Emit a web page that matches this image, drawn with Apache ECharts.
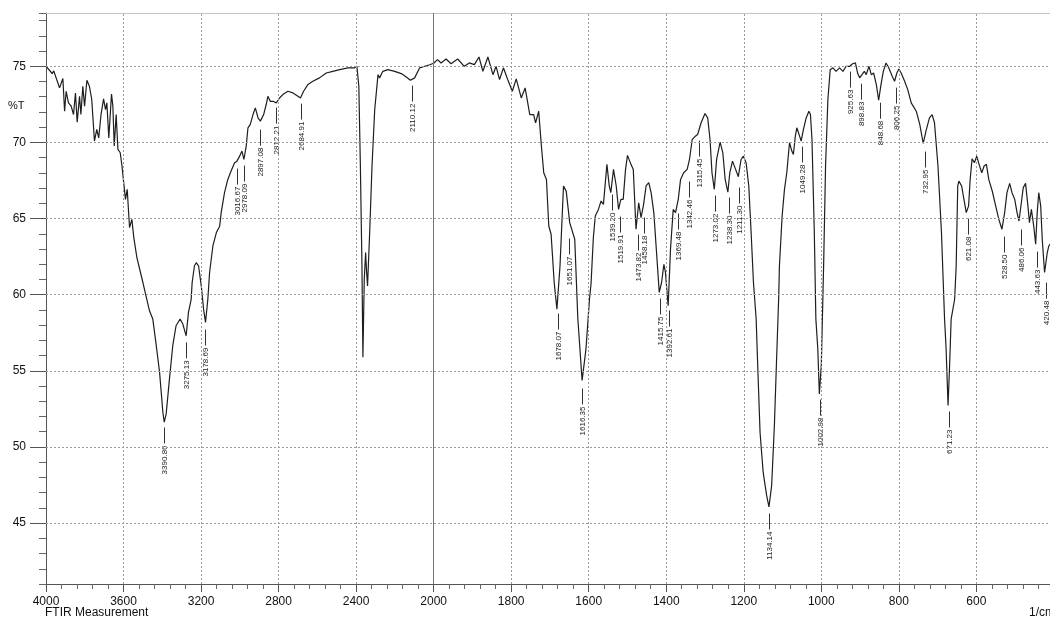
<!DOCTYPE html>
<html><head><meta charset="utf-8">
<script src="https://cdn.jsdelivr.net/npm/echarts@6/dist/echarts.min.js"></script>
<style>html,body{margin:0;padding:0;background:#fff}#c{width:1050px;height:621px}</style>
</head><body><div id="c"></div>
<script>
// Wavenumber (1/cm) and %T
const wavenumbers = [4000,3982,3968,3960,3944,3930,3913,3904,3896,3884,3870,3858,3848,3839,3827,3820,3810,3801,3789,3776,3764,3750,3738,3728,3716,3703,3693,3686,3676,3662,3655,3648,3638,3629,3617,3608,3600,3590,3581,3569,3557,3547,3531,3500,3466,3449,3431,3414,3397,3390,3380,3363,3346,3329,3308,3294,3277,3265,3251,3246,3234,3225,3213,3199,3187,3177,3165,3156,3139,3121,3104,3096,3079,3062,3045,3027,3015,3001,2989,2979,2967,2958,2946,2932,2920,2906,2894,2877,2864,2855,2843,2829,2812,2795,2778,2752,2726,2700,2687,2671,2649,2623,2589,2554,2520,2485,2442,2408,2396,2386,2378,2370,2365,2358,2351,2346,2341,2330,2318,2304,2287,2279,2262,2236,2201,2167,2141,2120,2112,2098,2072,2046,2020,2000,1990,1981,1968,1955,1938,1921,1908,1895,1883,1873,1860,1847,1839,1830,1820,1809,1797,1787,1774,1764,1752,1742,1737,1729,1722,1716,1709,1703,1697,1689,1682,1678,1674,1665,1658,1649,1645,1636,1628,1617,1607,1598,1594,1588,1583,1575,1568,1562,1553,1547,1543,1536,1529,1523,1517,1511,1505,1500,1491,1485,1478,1471,1465,1459,1452,1445,1439,1432,1425,1418,1412,1406,1402,1395,1389,1382,1376,1369,1363,1355,1346,1340,1333,1325,1319,1310,1300,1293,1287,1282,1276,1270,1261,1254,1248,1241,1236,1229,1221,1214,1207,1201,1194,1187,1181,1175,1168,1164,1158,1150,1141,1135,1128,1121,1115,1110,1108,1101,1095,1089,1082,1076,1072,1067,1063,1056,1052,1046,1039,1032,1028,1024,1018,1014,1009,1005,1000,996,994,989,983,977,970,962,953,944,936,927,919,912,906,901,895,889,884,877,871,865,858,852,846,840,833,826,817,811,805,800,794,785,777,768,755,746,737,730,721,714,708,699,690,682,678,673,669,665,656,652,648,645,638,632,626,620,616,611,605,599,593,586,580,574,568,559,551,542,534,527,521,514,508,501,495,490,484,479,473,467,463,458,452,447,443,439,434,430,424,417,413,405];
const transmittance = [75.0,74.74,74.52,74.7,74.1,73.58,74.2,72.05,73.36,72.6,72.38,71.83,73.25,71.33,73.03,71.83,73.69,72.38,74.08,73.69,72.82,70.09,70.85,70.3,71.83,72.86,72.16,72.6,70.3,73.17,72.38,69.76,71.83,69.54,69.32,68.45,68.45,66.26,66.92,64.41,64.95,63.75,62.44,60.8,58.94,58.4,56.65,54.9,52.28,51.63,52.17,54.47,56.65,57.96,58.4,58.07,57.3,58.84,59.7,60.8,61.9,62.1,61.9,60.6,59.05,58.18,59.7,61.46,63.2,64.08,64.5,65.4,66.7,67.57,68.12,68.67,68.77,69.1,69.43,68.88,69.76,70.96,71.18,71.83,72.27,71.61,71.4,71.83,72.49,73.03,72.7,72.7,72.6,72.92,73.14,73.36,73.25,73.03,72.92,73.36,73.8,74.02,74.24,74.56,74.67,74.78,74.9,74.9,75.0,73.69,68.45,62.0,55.9,61.0,62.77,61.5,60.58,64.1,68.45,72.16,74.45,74.24,74.67,74.78,74.67,74.52,74.3,74.08,74.02,74.24,74.9,75.0,75.1,75.2,75.44,75.22,75.48,75.17,75.48,75.0,75.22,75.11,75.61,74.67,75.61,74.45,75.0,74.13,74.9,74.13,73.36,74.17,72.92,73.58,71.83,71.83,71.29,72.05,69.76,68.01,67.57,64.51,63.97,60.8,59.05,58.97,61.9,67.14,66.8,64.73,64.69,63.64,58.4,54.37,56.44,59.7,60.7,63.76,65.17,65.6,66.15,65.93,68.56,67.14,66.7,68.23,67.14,65.6,66.26,66.26,68.23,69.15,68.56,68.23,64.3,66.04,65.06,65.83,67.14,67.36,66.7,65.39,62.77,60.15,60.8,62.0,61.46,59.27,62.99,65.6,65.39,66.26,67.57,68.01,68.23,68.88,70.19,70.41,70.52,71.29,71.9,71.61,70.19,68.01,66.92,68.88,70.02,69.32,67.57,66.74,68.01,68.77,68.23,67.75,68.88,69.1,68.67,67.14,64.08,60.8,58.4,55.34,50.97,48.35,46.82,46.06,47.48,51.41,56.0,59.7,61.89,65.17,66.92,68.01,69.98,69.43,69.21,70.41,70.96,70.41,70.09,70.85,71.61,72.05,71.83,70.19,64.08,58.4,56.43,53.48,55.34,59.7,61.9,68.45,72.82,74.78,74.9,74.67,74.9,74.67,75.0,75.0,75.17,75.22,74.52,74.24,74.45,74.67,74.45,75.0,74.45,74.56,73.8,72.77,73.8,74.67,75.22,74.9,74.34,74.02,74.56,74.82,74.56,74.02,73.47,72.6,72.05,71.18,69.93,70.74,71.61,71.83,71.29,68.45,64.08,58.4,56.43,52.72,55.34,58.4,59.7,61.9,67.14,67.46,67.14,66.26,65.39,65.83,67.57,68.93,68.67,69.1,68.56,68.01,68.45,68.56,67.57,66.81,65.93,64.95,64.3,65.39,66.7,67.31,66.7,66.26,65.39,64.84,66.04,67.03,67.31,65.83,64.73,65.6,64.51,63.31,65.39,66.7,65.83,63.64,61.46,62.77,63.2,63.5];

// Peak labels: wavenumber text and %T where each label's leader line starts
const peakLabels = ["3390.86","3275.13","3178.69","3016.67","2978.09","2897.08","2812.21","2684.91","2110.12","1678.07","1651.07","1616.35","1539.20","1519.91","1473.82","1458.18","1415.75","1392.61","1369.48","1342.46","1315.45","1273.02","1238.30","1211.30","1134.14","1049.28","1002.98","925.63","898.83","848.68","806.25","732.95","671.23","621.08","528.50","486.06","443.63","420.48"];
const peakAnchorT = [51.28,56.87,57.71,68.28,68.48,70.84,72.29,72.55,73.73,58.76,63.69,53.84,66.58,65.13,63.95,65.07,59.75,58.96,65.33,67.43,70.12,66.51,66.38,67.04,45.63,69.73,53.11,74.65,73.86,72.61,73.6,69.4,52.33,65.0,63.82,64.28,62.83,60.79];

const xTickValues = [4000,3600,3200,2800,2400,2000,1800,1600,1400,1200,1000,800,600,400];
const xVisibleEnd = 410;   // the reference is cropped just short of 400 1/cm
const yTickValues = [45,50,55,60,65,70,75];

// Axis scale doubles below 2000 1/cm (instrument display)
function toP(w){ return w >= 2000 ? 4000 - w : 2000 + (2000 - w) * 2; }
function fromP(p){ return p <= 2000 ? 4000 - p : 2000 - (p - 2000) / 2; }

const curve = wavenumbers.map((w, i) => [toP(w), transmittance[i]]);
const peaks = peakLabels.map((s, i) => [toP(parseFloat(s)), peakAnchorT[i], i]);

const xMin = toP(xTickValues[0]), xMax = toP(xVisibleEnd);
const majorP = xTickValues.map(toP).filter(p => p <= xMax);
const minorP = [];
for (let i = 0; i + 1 < xTickValues.length; i++) {
  const a = toP(xTickValues[i]), b = toP(xTickValues[i + 1]);
  for (let k = 1; k < 5; k++) { const p = a + (b - a) * k / 5; if (p <= xMax) minorP.push(p); }
}
const gridX = xTickValues.filter(w => w !== 2000 && w !== xTickValues[0] && toP(w) <= xMax);

const FONT = '"Liberation Sans", Arial, sans-serif';
const chart = echarts.init(document.getElementById('c'), null, {renderer: 'canvas'});
chart.setOption({
  animation: false,
  backgroundColor: '#fff',
  grid: {left: 46, right: 0, top: 13, bottom: 37, show: false},
  xAxis: [{
    type: 'value', min: xMin, max: xMax, interval: 400, position: 'bottom',
    axisLine: {show: true, lineStyle: {color: '#555', width: 1}},
    axisTick: {show: true, length: 8, customValues: majorP, lineStyle: {color: '#555'}},
    axisLabel: {show: true, margin: 12, color: '#111', fontSize: 12, fontFamily: FONT, showMaxLabel: false,
      formatter: v => String(Math.round(fromP(v)))},
    splitLine: {show: false}
  }, {
    type: 'value', min: xMin, max: xMax, interval: 400, position: 'top',
    axisLine: {show: true, lineStyle: {color: '#c4c4c4', width: 1}},
    axisTick: {show: false}, axisLabel: {show: false}, splitLine: {show: false}
  }, {
    type: 'value', min: xMin, max: xMax, interval: 400, position: 'bottom', offset: 0,
    axisLine: {show: false},
    axisTick: {show: true, length: 5, customValues: minorP, lineStyle: {color: '#666'}},
    axisLabel: {show: false}, splitLine: {show: false}
  }],
  yAxis: [{
    type: 'value', min: 41, max: 78.5, interval: 1, position: 'left',
    axisLine: {show: true, lineStyle: {color: '#555', width: 1}},
    axisTick: {show: true, length: 7, lineStyle: {color: '#666'}},
    axisLabel: {show: true, margin: 20, color: '#111', fontSize: 12, fontFamily: FONT,
      formatter: v => (yTickValues.indexOf(v) >= 0 ? String(v) : '')},
    splitLine: {show: false}
  }, {
    type: 'value', min: 41, max: 78.5, interval: 1, position: 'left', offset: 0,
    axisLine: {show: false},
    axisTick: {show: true, length: 16, customValues: yTickValues, lineStyle: {color: '#555'}},
    axisLabel: {show: false},
    splitLine: {show: false}
  }],
  graphic: [
    {type: 'text', left: 8, top: 100, style: {text: '%T', fill: '#111', font: '11px ' + FONT}},
    {type: 'text', left: 45, top: 607, style: {text: 'FTIR Measurement', fill: '#111', font: '12px ' + FONT}},
    {type: 'text', left: 1029, top: 607, style: {text: '1/cm', fill: '#111', font: '12px ' + FONT}}
  ],
  series: [{
    type: 'line', data: curve, showSymbol: false, symbol: 'none', smooth: false,
    lineStyle: {color: '#1e1e1e', width: 1.2}, z: 3, silent: true,
    markLine: {
      silent: true, symbol: 'none', label: {show: false}, animation: false,
      lineStyle: {color: '#9a9a9a', width: 1, type: [2, 2]},
      data: yTickValues.map(v => ({yAxis: v}))
        .concat(gridX.map(w => ({xAxis: toP(w)})))
        .concat([{xAxis: toP(2000), lineStyle: {color: '#777', type: 'solid', width: 1}}])
    }
  }, {
    type: 'custom', data: peaks, silent: true, z: 4,
    renderItem: (params, api) => {
      const pt = api.coord([api.value(0), api.value(1)]);
      const x = Math.round(pt[0]) + 0.5;
      const y = pt[1];
      const txt = peakLabels[api.value(2)];
      return {type: 'group', children: [
        {type: 'line', shape: {x1: x, y1: y, x2: x, y2: y + 16}, style: {stroke: '#333', lineWidth: 1}},
        {type: 'text', x: x, y: y + 18, rotation: Math.PI / 2,
          style: {text: txt, fill: '#222', font: '8px ' + FONT, align: 'right', verticalAlign: 'middle', textAlign: 'right', textVerticalAlign: 'middle'}}
      ]};
    }
  }]
});
</script></body></html>
